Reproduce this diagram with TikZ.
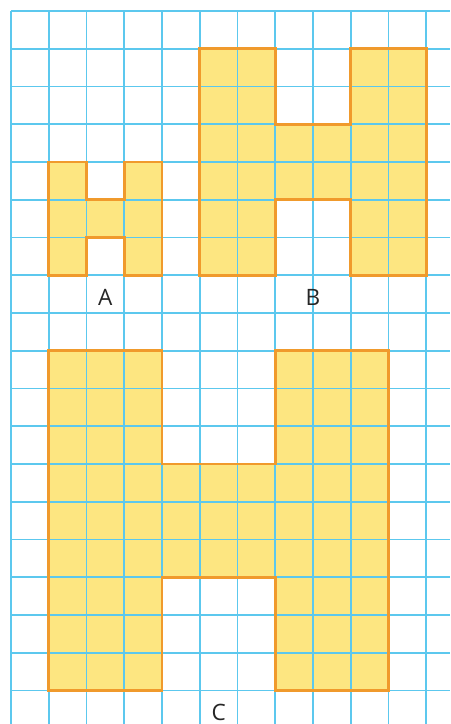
\documentclass[tikz,border=0pt]{standalone}
\usepackage{fontspec}
\setmainfont{Open Sans}
\definecolor{gridc}{HTML}{5CC8EE}
\definecolor{fillc}{HTML}{FDE681}
\definecolor{edgec}{HTML}{F09A2C}
\tikzset{
  gridline/.style={draw=gridc, line width=1.45pt},
  shapebox/.style={fill=fillc},
  shapeedge/.style={draw=edgec, line width=2pt, line join=miter},
  lbl/.style={font=\fontsize{17}{17}\selectfont, text=black!85, inner sep=0pt}
}
\begin{document}
\begin{tikzpicture}[x=1cm,y=-1cm]
\useasboundingbox (-0.2914,-0.2914) rectangle (11.629,18.887);
% shape outlines as paths
\def\shapeA{(1,4) -- (2,4) -- (2,5) -- (3,5) -- (3,4) -- (4,4) -- (4,7) -- (3,7) -- (3,6) -- (2,6) -- (2,7) -- (1,7) -- cycle}
\def\shapeB{(5,1) -- (7,1) -- (7,3) -- (9,3) -- (9,1) -- (11,1) -- (11,7) -- (9,7) -- (9,5) -- (7,5) -- (7,7) -- (5,7) -- cycle}
\def\shapeC{(1,9) -- (4,9) -- (4,12) -- (7,12) -- (7,9) -- (10,9) -- (10,18) -- (7,18) -- (7,15) -- (4,15) -- (4,18) -- (1,18) -- cycle}
\fill[shapebox] \shapeA;
\fill[shapebox] \shapeB;
\fill[shapebox] \shapeC;
% grid
\foreach \i in {0,...,11} \draw[gridline] (\i,0) -- (\i,18.887);
\foreach \j in {0,...,18} \draw[gridline] (0,\j) -- (11.629,\j);
% outlines
\draw[shapeedge] \shapeA;
\draw[shapeedge] \shapeB;
\draw[shapeedge] \shapeC;
% labels
\node[lbl] (labA) at (2.5,7.6) {A};
\node[lbl] (labB) at (8,7.6) {B};
\node[lbl] (labC) at (5.5,18.57) {C};
\end{tikzpicture}
\end{document}
